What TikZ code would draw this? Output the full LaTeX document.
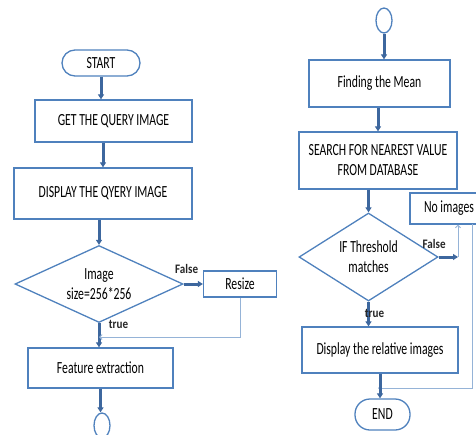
\documentclass[tikz,border=0pt]{standalone}
\usepackage{fontspec}
\setmainfont{Carlito}[FakeStretch=0.69]
\newfontfamily\lblfont{Carlito}[FakeStretch=0.85]
\usepackage{tikz}
\usetikzlibrary{shapes.geometric,positioning,arrows.meta}
\definecolor{boxblue}{HTML}{4F81BD}
\definecolor{arrblue}{HTML}{3D679E}
\definecolor{thinblue}{HTML}{95B3D7}

\begin{document}
\begin{tikzpicture}[x=1pt,y=-1pt,
  font=\fontsize{17}{20}\selectfont,
  block/.style={draw=boxblue, line width=1.3pt, inner sep=0pt, align=center},
  term/.style={block, rounded corners=13pt},
  decision/.style={block, diamond, aspect=2},
  conn/.style={block, ellipse, minimum width=16pt, minimum height=25pt},
  flow/.style={-{Triangle[length=5pt,width=6pt]}, draw=arrblue, line width=3pt},
  back/.style={-{Straight Barb[length=2.5pt,width=5pt]}, draw=thinblue, line width=0.9pt},
  lbl/.style={font=\lblfont\bfseries\fontsize{13}{15}\selectfont, text=black!85, inner sep=0pt, anchor=base}]

\useasboundingbox (0,0) rectangle (476,434);

% left column
\node[term, minimum width=78pt, minimum height=26pt] (start) at (101,63) {START};
\node[block, minimum width=157pt, minimum height=42pt] (getq) at (113.5,121) {GET THE QUERY IMAGE};
\node[block, minimum width=178pt, minimum height=51pt] (disp) at (103,193.5) {DISPLAY THE QYERY IMAGE};
\node[decision, minimum width=168pt, minimum height=77pt] (size) at (99,284) {Image\\size=256*256};
\node[block, minimum width=73pt, minimum height=26pt] (resize) at (240,284) {Resize};
\node[block, minimum width=145pt, minimum height=40pt] (feat) at (100.5,368) {Feature extraction};
\node[conn] (conA) at (102,425.5) {};
\coordinate (j1) at (99,337);

% right column
\node[conn] (conB) at (384,20.5) {};
\node[block, minimum width=141pt, minimum height=47pt] (mean) at (379.5,83.5) {Finding the Mean};
\node[block, minimum width=158pt, minimum height=57pt] (search) at (378,160.5) {SEARCH FOR NEAREST VALUE\\FROM DATABASE};
\node[decision, minimum width=139pt, minimum height=88pt, aspect=1.6] (thr) at (368.5,257) {IF Threshold\\matches};
\node[block, minimum width=78pt, minimum height=31pt] (noimg) at (449,208.5) {No images};
\node[block, minimum width=156pt, minimum height=46pt] (disp2) at (380,350) {Display the relative images};
\node[term, minimum width=55pt, minimum height=31pt, rounded corners=15pt] (endn) at (382.5,414.5) {END};
\coordinate (f2) at (458,257);
\coordinate (j2) at (378,388);
\coordinate (r2) at (472,224);

\draw[flow] (start) -- (start |- getq.north);
\draw[flow] (disp.north |- getq.south) -- (disp.north);
\draw[flow] (size.north |- disp.south) -- (size.north);
\draw[flow] (size.east) -- node[lbl, at start, xshift=3pt, yshift=11pt] {False} (resize.west);
\draw[flow] (size.south) -- node[lbl, at start, xshift=19.5pt, yshift=-5.5pt] {true} (size.south |- feat.north);
\draw[back] (resize.south) |- (j1);
\draw[flow] (feat.south) -- (feat.south |- conA.north);

\draw[flow] (conB.south) -- (conB.south |- mean.north);
\draw[flow] (search.north |- mean.south) -- (search.north);
\draw[flow] (thr.north |- search.south) -- (thr.north);
\draw[flow] (thr.east) -- node[lbl, at start, xshift=-4.5pt, yshift=9pt] {False} (f2);
\draw[back] (f2) -- (f2 |- noimg.south);
\draw[flow] (thr.south) -- node[lbl, at start, xshift=6pt, yshift=-16pt] {true} (thr.south |- disp2.north);
\draw[back] (r2) |- (j2);
\draw[flow] (disp2.south) -- (disp2.south |- endn.north);

\end{tikzpicture}
\end{document}
